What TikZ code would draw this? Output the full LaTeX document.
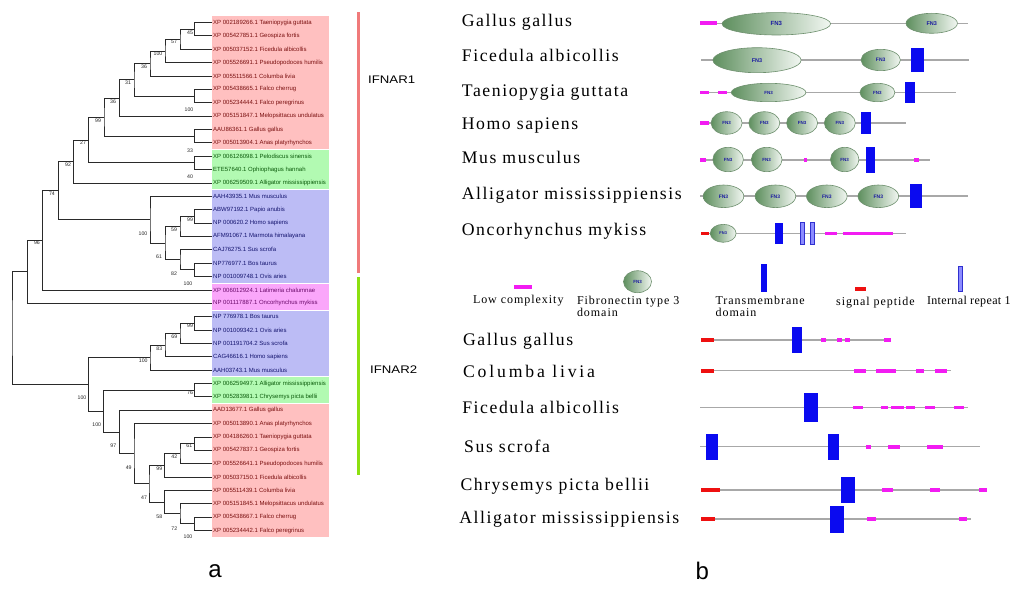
\documentclass[tikz,border=0pt]{standalone}
\usepackage{fontspec}
\usepackage{graphicx}
\setmainfont{Liberation Serif}
\newfontfamily\arialf{Liberation Sans}
\newfontfamily\spfont[LetterSpace=8.8]{Liberation Serif}
\newfontfamily\spwide[LetterSpace=16]{Liberation Serif}
\newfontfamily\lgfont[LetterSpace=8]{Liberation Serif}
\newfontfamily\lgnarrow[LetterSpace=3]{Liberation Serif}
\usetikzlibrary{calc}
\definecolor{bandR}{HTML}{FFC0C0}
\definecolor{bandG}{HTML}{B2FAB2}
\definecolor{bandB}{HTML}{BCBCF5}
\definecolor{bandM}{HTML}{FAA6FA}
\definecolor{txR}{HTML}{7A1010}
\definecolor{txG}{HTML}{0A5A0A}
\definecolor{txB}{HTML}{14146E}
\definecolor{txM}{HTML}{6A0A6A}
\definecolor{treeC}{HTML}{2A2A2A}
\definecolor{barR}{HTML}{F07A7A}
\definecolor{barG}{HTML}{8CE010}
\definecolor{lineGray}{HTML}{A8A8A8}
\definecolor{magC}{HTML}{F21CF2}
\definecolor{blueC}{HTML}{0A0AF0}
\definecolor{redC}{HTML}{EE1010}
\definecolor{irepF}{HTML}{8C8CFF}
\definecolor{irepD}{HTML}{3030D0}
\definecolor{fnD}{HTML}{5E8F5E}
\definecolor{fnL}{HTML}{F2F7F2}
\definecolor{fnB}{HTML}{6E906E}
\definecolor{fnT}{HTML}{1A1AA0}
\newcommand\tn[4]{%
  \path let \p1=($(#3)!.5!(#4)$), \p2=(#2,0) in (\x2,\y1) coordinate (#1);
  \draw[branch] (#3) -| (#1) |- (#4);}
\newcommand\fnIII[5]{%
  \path[fnball] (#1,#2) ellipse [x radius=#3pt, y radius=#4pt];
  \node[fntxt,font=\arialf\bfseries\fontsize{#5}{#5}\selectfont] at (#1,#2) {FN3};}
\newcommand\dbar[4]{\fill[#1] (#2,{#4-1.8}) rectangle (#3,{#4+1.8});}
\begin{document}
\begin{tikzpicture}[x=1pt,y=-1pt,
  branch/.style={draw=treeC, line width=0.8pt},
  leaf/.style={anchor=west, inner sep=1pt, font=\arialf\fontsize{6}{7}\selectfont},
  bs/.style={inner sep=0pt, font=\arialf\fontsize{5.2}{6}\selectfont, text=black!85},
  sp/.style={anchor=base west, inner sep=0pt, font=\spfont\fontsize{17.7}{20}\selectfont},
  lg/.style={anchor=base west, inner sep=0pt, font=\lgfont\fontsize{12}{14}\selectfont},
  pline/.style={draw=lineGray, line width=1.3pt},
  lowc/.style={fill=magC},
  tmem/.style={fill=blueC},
  sigp/.style={fill=redC},
  irep/.style={fill=irepF, draw=irepD, line width=0.5pt},
  fnball/.style={left color=fnD, right color=fnL, draw=fnB, line width=0.6pt},
  fntxt/.style={text=fnT, inner sep=0pt},
]
\useasboundingbox[fill=white] (0,0) rectangle (1024,591);

% ---------- colour bands ----------
\fill[bandR] (212,15.8) rectangle (329,149.0);
\fill[bandG] (212,150.0) rectangle (329,189.1);
\fill[bandB] (212,190.1) rectangle (329,282.7);
\fill[bandM] (212,283.7) rectangle (329,309.5);
\fill[bandB] (212,310.5) rectangle (329,376.3);
\fill[bandG] (212,377.3) rectangle (329,403.0);
\fill[bandR] (212,404.0) rectangle (329,537.2);

% ---------- leaves ----------
\foreach \i in {1,...,39} \coordinate (L\i) at (212,{22.5+(\i-1)*13.37});
\foreach \i/\t/\c in {
 1/{XP 002189266.1 Taeniopygia guttata}/txR,
 2/{XP 005427851.1 Geospiza fortis}/txR,
 3/{XP 005037152.1 Ficedula albicollis}/txR,
 4/{XP 005526691.1 Pseudopodoces humilis}/txR,
 5/{XP 005511566.1 Columba livia}/txR,
 6/{XP 005438665.1 Falco cherrug}/txR,
 7/{XP 005234444.1 Falco peregrinus}/txR,
 8/{XP 005151847.1 Melopsittacus undulatus}/txR,
 9/{AAU86361.1 Gallus gallus}/txR,
 10/{XP 005013904.1 Anas platyrhynchos}/txR,
 11/{XP 006126098.1 Pelodiscus sinensis}/txG,
 12/{ETE57640.1 Ophiophagus hannah}/txG,
 13/{XP 006259509.1 Alligator mississippiensis}/txG,
 14/{AAH43935.1 Mus musculus}/txB,
 15/{ABW97192.1 Papio anubis}/txB,
 16/{NP 000620.2 Homo sapiens}/txB,
 17/{AFM91067.1 Marmota himalayana}/txB,
 18/{CAJ76275.1 Sus scrofa}/txB,
 19/{NP776977.1 Bos taurus}/txB,
 20/{NP 001009748.1 Ovis aries}/txB,
 21/{XP 006012924.1 Latimeria chalumnae}/txM,
 22/{NP 001117887.1 Oncorhynchus mykiss}/txM,
 23/{NP 776978.1 Bos taurus}/txB,
 24/{NP 001009342.1 Ovis aries}/txB,
 25/{NP 001191704.2 Sus scrofa}/txB,
 26/{CAG46616.1 Homo sapiens}/txB,
 27/{AAH03743.1 Mus musculus}/txB,
 28/{XP 006259497.1 Alligator mississippiensis}/txG,
 29/{XP 005283981.1 Chrysemys picta bellii}/txG,
 30/{AAD13677.1 Gallus gallus}/txR,
 31/{XP 005013890.1 Anas platyrhynchos}/txR,
 32/{XP 004186260.1 Taeniopygia guttata}/txR,
 33/{XP 005427837.1 Geospiza fortis}/txR,
 34/{XP 005526641.1 Pseudopodoces humilis}/txR,
 35/{XP 005037150.1 Ficedula albicollis}/txR,
 36/{XP 005511439.1 Columba livia}/txR,
 37/{XP 005151845.1 Melopsittacus undulatus}/txR,
 38/{XP 005438667.1 Falco cherrug}/txR,
 39/{XP 005234442.1 Falco peregrinus}/txR}
 \node[leaf, text=\c] (T\i) at (L\i) {\t};

% ---------- tree ----------
\tn{a}{194.3}{L1}{L2}
\tn{b}{180}{a}{L3}
\tn{c}{165}{b}{L4}
\tn{d}{150}{c}{L5}
\tn{e}{194.3}{L6}{L7}
\tn{f}{134}{d}{e}
\tn{g}{119.3}{f}{L8}
\tn{h}{194.3}{L9}{L10}
\tn{i}{104}{g}{h}
\tn{j}{194.3}{L11}{L12}
\tn{k}{88.3}{i}{j}
\tn{l}{73.3}{k}{L13}
\tn{m}{194.3}{L15}{L16}
\tn{n}{180}{m}{L17}
\tn{o}{194.3}{L19}{L20}
\tn{p}{180}{L18}{o}
\tn{q}{165}{n}{p}
\tn{r}{150}{L14}{q}
\tn{s}{58.3}{l}{r}
\tn{t}{42.7}{s}{L21}
\tn{u}{27.3}{t}{L22}
\tn{w}{194.3}{L23}{L24}
\tn{x1}{180}{w}{L25}
\tn{y1}{165}{x1}{L26}
\tn{z1}{150}{y1}{L27}
\tn{aa}{194.3}{L28}{L29}
\tn{bb}{194.3}{L32}{L33}
\tn{cc}{180}{bb}{L34}
\tn{dd}{164.3}{cc}{L35}
\tn{ee}{194.3}{L38}{L39}
\tn{ff}{180}{L37}{ee}
\tn{gg}{164.3}{L36}{ff}
\tn{hh}{149}{dd}{gg}
\tn{ii}{134}{L31}{hh}
\tn{jj}{119.3}{L30}{ii}
\tn{kk}{103.3}{aa}{jj}
\tn{v}{88.3}{z1}{kk}
\tn{root}{12}{u}{v}

% ---------- bootstrap values ----------
\foreach \n/\t/\x/\y in {
 a/45/190/33, b/57/174/42, c/100/158/54, d/36/144/67, f/31/128/83,
 g/36/113/101.7, e/100/189/110, i/99/98/120.7, k/27/83/143, h/33/190/151,
 l/92/68/165, j/40/190/177, s/74/52/194, m/99/190/220, n/59/174/230,
 r/100/143/234, t/96/37/243, q/61/159/257, p/82/174/274, o/100/188/284,
 w/99/190/326, x1/69/174.3/336.7, y1/83/159.3/348.3, z1/100/143.3/360.7,
 aa/76/190/393, v/100/82/398, kk/100/96.7/425, jj/97/113.3/445.7,
 bb/61/189.3/446, cc/42/174.3/456.7, ii/49/128.7/467.7, dd/99/159.3/469,
 hh/47/144/497.3, gg/58/159.3/516.7, ff/72/174.3/528.3, ee/100/188/537}
 \node[bs] (B\n) at (\x,\y) {\t};

% ---------- receptor bars ----------
\fill[barR] (356.8,12.3) rectangle (359.8,273);
\fill[barG] (356.8,277) rectangle (359.8,475);
\node[anchor=west, inner sep=0pt, font=\arialf\fontsize{11}{13}\selectfont] (ifn1) at (368,80) {\scalebox{1.2}[1]{IFNAR1}};
\node[anchor=west, inner sep=0pt, font=\arialf\fontsize{11}{13}\selectfont] (ifn2) at (370,370) {\scalebox{1.2}[1]{IFNAR2}};

\node[inner sep=0pt, font=\arialf\fontsize{24}{28}\selectfont] (pa) at (215,571) {a};
\node[inner sep=0pt, font=\arialf\fontsize{24}{28}\selectfont] (pb) at (702.4,571) {b};

% ---------- panel b : IFNAR1 ----------
\node[sp] (s1) at (461.7,26.7) {Gallus gallus};
\node[sp] (s2) at (461.7,61.7) {Ficedula albicollis};
\node[sp] (s3) at (461.7,96) {Taeniopygia guttata};
\node[sp] (s4) at (461.7,129) {Homo sapiens};
\node[sp] (s5) at (461.7,163.3) {Mus musculus};
\node[sp] (s6) at (461.7,199.3) {Alligator mississippiensis};
\node[sp] (s7) at (461.7,235) {Oncorhynchus mykiss};

% Gallus
\draw[pline] (700,23.3) -- (968.4,23.3);
\dbar{lowc}{700}{716.6}{23.3}
\fnIII{776.3}{23.8}{54.3}{11.2}{6}
\fnIII{931.7}{23.3}{25.7}{10}{5.5}
% Ficedula
\draw[pline] (701.1,60) -- (969.1,60);
\fnIII{757}{60.2}{44.1}{12.5}{5.5}
\fnIII{880.7}{60}{19.7}{10.7}{5}
\fill[tmem] (911.4,47.7) rectangle (924.3,72.3);
% Taeniopygia
\draw[pline] (700,92.7) -- (955.5,92.7);
\dbar{lowc}{700}{709.2}{92.7}
\dbar{lowc}{717.6}{726.5}{92.7}
\fnIII{768.6}{92.5}{37.3}{9.2}{4.5}
\fnIII{877.4}{92.5}{17.5}{9.2}{4.5}
\fill[tmem] (904.8,82.3) rectangle (915.1,103.3);
% Homo
\draw[pline] (700,123) -- (905.9,123);
\dbar{lowc}{700}{709.2}{123}
\fnIII{726.6}{123}{15.5}{11.3}{4.5}
\fnIII{764.3}{123}{15.5}{11.3}{4.5}
\fnIII{802.1}{123}{15.5}{11.3}{4.5}
\fnIII{839.8}{123}{15.5}{11.3}{4.5}
\fill[tmem] (861,111.7) rectangle (871,134.3);
% Mus
\draw[pline] (700,160) -- (929.8,160);
\dbar{lowc}{700}{706.3}{160}
\dbar{lowc}{803.7}{807.4}{160}
\dbar{lowc}{914}{919.1}{160}
\fnIII{728.1}{159.5}{15.3}{12.2}{4.5}
\fnIII{766.7}{159.5}{15.3}{12.2}{4.5}
\fnIII{844.7}{159.5}{14.2}{12.2}{4.5}
\fill[tmem] (866.2,147.3) rectangle (875.4,172.7);
% Alligator
\draw[pline] (700,196) -- (968.4,196);
\fnIII{723.5}{196.3}{20.3}{11.3}{5}
\fnIII{775.4}{196.3}{20.3}{11.3}{5}
\fnIII{826.8}{196.3}{20.3}{11.3}{5}
\fnIII{878.3}{196.3}{20.3}{11.3}{5}
\fill[tmem] (909.6,184) rectangle (922.4,208.3);
% Oncorhynchus
\draw[pline] (701.1,233.3) -- (905.9,233.3);
\dbar{sigp}{701.1}{708.5}{233.3}
\fnIII{723.2}{233.3}{12.9}{9}{4}
\fill[tmem] (774.6,222.7) rectangle (782.7,244.3);
\path[irep] (800.4,222.7) rectangle (804,244.3);
\path[irep] (810.3,222.7) rectangle (814,244.3);
\dbar{lowc}{825}{836.8}{233.3}
\dbar{lowc}{842.6}{893}{233.3}

% ---------- legend ----------
\dbar{lowc}{514.3}{531.6}{286.7}
\node[lg] (lg1) at (472.8,303.3) {Low complexity};
\fnIII{637.5}{281.7}{14}{11}{4.5}
\node[lg] (lg2) at (576.8,304) {Fibronectin type 3};
\node[lg] (lg2b) at (576.8,316.7) {domain};
\fill[tmem] (761.4,264) rectangle (767.3,291.7);
\node[lg] (lg3) at (715.4,304) {Transmembrane};
\node[lg] (lg3b) at (715.4,316.7) {domain};
\dbar{sigp}{855.1}{866.2}{289}
\node[lg] (lg4) at (836,305) {signal peptide};
\path[irep] (958.1,266.7) rectangle (961.8,291.7);
\node[lg, font=\lgnarrow\fontsize{12}{14}\selectfont] (lg5) at (926.8,304) {Internal repeat 1};

% ---------- panel b : IFNAR2 ----------
\node[sp] (r1) at (462.9,345) {Gallus gallus};
\node[sp, font=\spwide\fontsize{17.7}{20}\selectfont] (r2) at (462.9,377.3) {Columba livia};
\node[sp] (r3) at (462.1,413.3) {Ficedula albicollis};
\node[sp] (r4) at (464,452.3) {Sus scrofa};
\node[sp] (r5) at (460.3,490.7) {Chrysemys picta bellii};
\node[sp] (r6) at (459.2,523.3) {Alligator mississippiensis};

% Gallus
\draw[pline] (701.1,340) -- (891.2,340);
\dbar{sigp}{701.1}{713.6}{340}
\fill[tmem] (791.9,327.3) rectangle (801.8,353.3);
\dbar{lowc}{821.3}{826.1}{340}
\dbar{lowc}{836.8}{841.5}{340}
\dbar{lowc}{844.5}{850}{340}
\dbar{lowc}{883.8}{891.2}{340}
% Columba
\draw[pline] (701.1,370.7) -- (950.7,370.7);
\dbar{sigp}{701.1}{713.6}{370.7}
\dbar{lowc}{853.7}{866.2}{370.7}
\dbar{lowc}{875.7}{885.7}{370.7}
\dbar{lowc}{886.4}{896}{370.7}
\dbar{lowc}{916.2}{924.3}{370.7}
\dbar{lowc}{935.3}{947.1}{370.7}
% Ficedula
\draw[pline] (700,407.3) -- (968.4,407.3);
\fill[tmem] (803.7,392.7) rectangle (818.4,422);
\dbar{lowc}{853.3}{862.5}{407.3}
\dbar{lowc}{880.9}{888.2}{407.3}
\dbar{lowc}{891.2}{904}{407.3}
\dbar{lowc}{905.9}{915.1}{407.3}
\dbar{lowc}{925}{935.3}{407.3}
\dbar{lowc}{954.4}{964}{407.3}
% Sus
\draw[pline] (700,446.7) -- (980.1,446.7);
\fill[tmem] (705.5,434.3) rectangle (717.6,460);
\fill[tmem] (827.6,434.3) rectangle (838.6,460);
\dbar{lowc}{866.2}{871}{446.7}
\dbar{lowc}{887.5}{900.4}{446.7}
\dbar{lowc}{926.8}{942.6}{446.7}
% Chrysemys
\draw[pline] (701.1,490) -- (986.8,490);
\dbar{sigp}{701.1}{719.5}{490}
\fill[tmem] (840.8,477.3) rectangle (855.1,502.7);
\dbar{lowc}{882}{893}{490}
\dbar{lowc}{929.8}{939.7}{490}
\dbar{lowc}{978.7}{986.8}{490}
% Alligator
\draw[pline] (701.1,519) -- (971,519);
\dbar{sigp}{701.1}{714.7}{519}
\fill[tmem] (829.8,505.7) rectangle (844.1,533.3);
\dbar{lowc}{866.5}{875.7}{519}
\dbar{lowc}{959.2}{967.3}{519}
\end{tikzpicture}
\end{document}
